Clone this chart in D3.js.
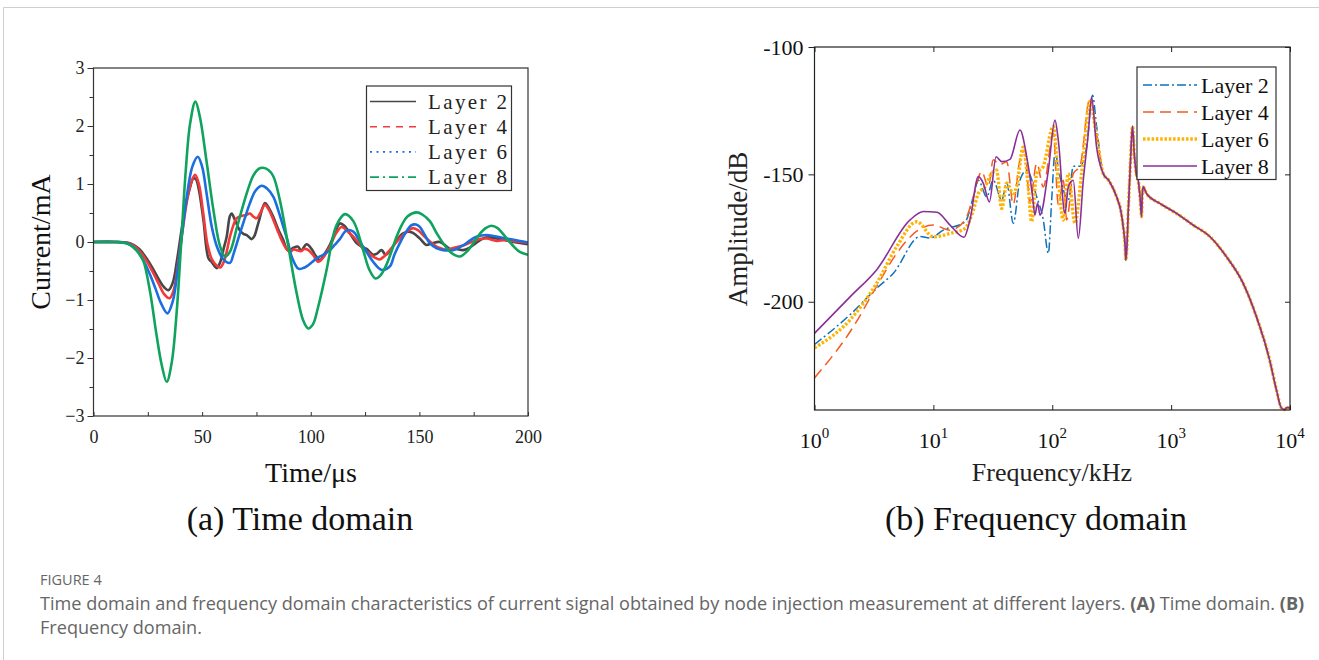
<!DOCTYPE html>
<html><head><meta charset="utf-8">
<script src="https://cdn.jsdelivr.net/npm/d3@7"></script>
<style>
html,body{margin:0;padding:0;background:#fff;}
svg{display:block;}
</style></head>
<body>
<svg id="fig" width="1319" height="660"></svg>
<script>
// ---------------- DATA ----------------
const seriesNames = ["Layer 2", "Layer 4", "Layer 6", "Layer 8"];

// (a) Time domain: [time µs, current mA]
const timeLayer2 = [[0,0],[10,0],[15,-0.01],[18,-0.04],[21,-0.12],[24,-0.26],[27,-0.44],[30,-0.64],[32.5,-0.78],[34.5,-0.83],[36.5,-0.7],[38.5,-0.3],[40.5,0.2],[42.5,0.65],[44.5,0.95],[46,1.1],[47.2,1.08],[48.5,0.9],[50.6,0.38],[52.9,-0.28],[54.5,-0.35],[56.7,-0.45],[58.5,-0.33],[60,-0.1],[61.3,0.09],[62.8,0.45],[63.6,0.49],[65.1,0.38],[67.4,0.2],[69,0.14],[70.5,0.12],[72.8,0.05],[74,0.1],[75.9,0.33],[78.9,0.67],[80.5,0.6],[82.8,0.43],[85,0.22],[87.4,0.03],[88.9,-0.12],[90.4,-0.14],[92,-0.1],[94.2,-0.08],[95.5,-0.15],[98.1,-0.04],[100.4,-0.12],[102.3,-0.24],[104.2,-0.31],[106.5,-0.2],[108.8,-0.05],[111,0.15],[113.4,0.32],[115.5,0.28],[118,0.15],[121.1,-0.02],[123.5,-0.08],[125.7,-0.12],[128.8,-0.22],[130.5,-0.2],[132.6,-0.14],[134.5,-0.22],[136.5,-0.15],[139.5,0.02],[142.5,0.15],[146.3,0.17],[150.2,0.06],[153.2,-0.05],[156,-0.02],[159.4,0.0],[162,-0.06],[164,-0.12],[167,-0.12],[170.1,-0.14],[173,-0.1],[176,-0.02],[179.3,0.06],[182,0.08],[185.5,0.06],[189,0.04],[193.2,0.0],[197,-0.02],[200,-0.04]];
const timeLayer4 = [[0,0],[10,0],[15,-0.01],[18,-0.05],[21,-0.15],[24,-0.3],[27,-0.5],[30,-0.72],[32.5,-0.9],[35,-0.97],[37,-0.82],[39,-0.35],[41,0.2],[43.5,0.8],[45.5,1.08],[46.8,1.16],[48.5,1.0],[50.5,0.5],[52.5,-0.05],[54.5,-0.3],[56.5,-0.4],[58.3,-0.44],[60.2,-0.32],[62.8,0.09],[64.5,0.3],[65.9,0.41],[68,0.45],[70,0.46],[72,0.49],[73.5,0.44],[75.1,0.41],[77,0.52],[78.9,0.64],[80.8,0.55],[82.8,0.38],[84.7,0.2],[86.6,0.03],[88.5,-0.1],[90.4,-0.17],[92,-0.13],[93.5,-0.14],[95.5,-0.16],[97,-0.12],[98.9,-0.14],[101,-0.22],[103.4,-0.34],[105.5,-0.28],[108.8,-0.08],[111.5,0.14],[114.2,0.26],[116.5,0.2],[118.8,0.12],[121.5,0.01],[124.1,-0.11],[127,-0.2],[129.5,-0.27],[131.8,-0.3],[134,-0.24],[136.4,-0.14],[139.5,0.0],[142.5,0.12],[145,0.2],[147.1,0.24],[149.5,0.2],[151.7,0.12],[154.5,0.02],[157.9,-0.08],[160,-0.11],[162.5,-0.13],[166,-0.1],[170.1,-0.06],[174,0.0],[177.8,0.05],[181,0.06],[185.5,0.02],[189,0.03],[193,0.02],[197,0.0],[200,-0.01]];
const timeLayer6 = [[0,0],[10,0],[14,-0.01],[17,-0.05],[20,-0.15],[23,-0.32],[26,-0.56],[28.5,-0.8],[31,-1.05],[34,-1.23],[36.5,-1.02],[38.5,-0.55],[40.5,0.05],[43,0.8],[45.5,1.3],[48,1.47],[50,1.3],[52,0.85],[54.5,0.25],[57,-0.1],[59.8,-0.3],[62.8,-0.36],[64.5,-0.2],[67.4,0.15],[70,0.45],[72,0.67],[74.5,0.88],[77.4,0.97],[80,0.92],[82.8,0.78],[85,0.55],[87.4,0.26],[89.5,0.0],[91.2,-0.25],[94.3,-0.46],[96.5,-0.45],[98.1,-0.42],[100.5,-0.35],[102.7,-0.28],[105.7,-0.22],[108.8,-0.14],[111,-0.05],[113.4,0.05],[116.5,0.2],[119.6,0.18],[122,0.05],[124.1,-0.08],[126.5,-0.22],[128.7,-0.34],[132.6,-0.48],[136.4,-0.42],[138.5,-0.22],[141,-0.02],[143.5,0.15],[146.4,0.29],[148.5,0.3],[150.2,0.26],[152.5,0.12],[154.8,-0.02],[158,-0.11],[160.9,-0.14],[165.5,-0.14],[170.1,-0.06],[173,0.02],[176.3,0.09],[180.9,0.12],[184.5,0.1],[188.5,0.07],[194.7,0.03],[200,-0.01]];
const timeLayer8 = [[0,0],[10,0],[15,-0.02],[18,-0.08],[21,-0.2],[23,-0.33],[26,-0.85],[29,-1.6],[31.4,-2.12],[33.7,-2.41],[36,-2.08],[38.3,-1.2],[40.3,-0.05],[42.5,1.25],[44.5,2.05],[46.9,2.42],[49,2.15],[52,1.4],[55.2,0.55],[58.3,-0.08],[60.6,-0.25],[62.9,-0.16],[66,0.25],[69,0.65],[71.5,0.95],[73.6,1.15],[76,1.26],[78,1.28],[80.5,1.24],[82.8,1.13],[85.8,0.72],[89.7,-0.08],[93.5,-0.88],[96.5,-1.35],[98.8,-1.49],[101,-1.42],[103.4,-1.12],[107.3,-0.48],[110,0.05],[112,0.3],[115.7,0.48],[119.6,0.36],[124.1,-0.14],[127,-0.48],[129.8,-0.63],[132,-0.58],[134.5,-0.42],[137,-0.18],[139.5,0.09],[142,0.3],[144.5,0.44],[148.7,0.51],[151.5,0.47],[154.8,0.36],[158,0.15],[160.9,-0.02],[164.5,-0.18],[168.6,-0.25],[172,-0.16],[174.7,-0.03],[178,0.15],[180.5,0.24],[183.2,0.28],[186,0.24],[190,0.07],[193,-0.06],[196.2,-0.17],[200,-0.22]];
const timeTicks = [0, 50, 100, 150, 200];
const timeMinorTicks = [25, 75, 125, 175];
const currentTicks = [-3, -2, -1, 0, 1, 2, 3];
const currentMinorTicks = [-2.5, -1.5, -0.5, 0.5, 1.5, 2.5];

// (b) Frequency domain: [frequency kHz, amplitude dB]
const freqTail = [[268.5,-149.7],[300,-152.5],[347.5,-158.8],[380,-165],[395.4,-170.6],[410,-178],[415.9,-183.7],[425,-178],[435.5,-165],[455,-145],[473.2,-131.1],[490,-142],[510,-150],[528.4,-152.3],[550,-160],[563.6,-166.6],[572,-158],[582.1,-154.9],[620.9,-157.5],[803.5,-161.4],[1109,-165.3],[1531,-169.9],[2113,-174.4],[2917,-182.3],[4027,-192.7],[5212,-205.8],[6745,-222.9],[7691,-234.6],[8472,-241.7],[9000,-242.3],[9400,-241.5],[10000,-241.7]];
const freqLayer2 = [[1,-216.8],[2.0,-205],[3.34,-194.7],[4.61,-188.8],[7.73,-174.4],[9.38,-175],[12.1,-171.9],[18.5,-168.6],[21.7,-158.8],[23.9,-152.3],[28.1,-158.8],[31.9,-152.3],[37.6,-160.1],[41.4,-153.2],[47.0,-169.2],[53.5,-152.3],[61.0,-148.4],[74.0,-158.8],[84.1,-167.9],[92.7,-181],[98.9,-160.1],[105.4,-141.7],[116.1,-150.9],[136.5,-160.1],[150.3,-146.8],[171.0,-146.8],[194.5,-139.3],[218.3,-118.9],[236,-131.1]];
const freqLayer4 = [[1,-229.9],[2.13,-209.7],[3.34,-193.9],[4.92,-181],[7.24,-172.3],[10,-169.9],[13.8,-171.9],[18.5,-167.9],[21.7,-158.8],[25.5,-148.9],[29.0,-154.9],[31.9,-144.3],[36.3,-146.2],[41.4,-145],[47.0,-161.8],[52.8,-145.6],[58.9,-140.5],[64.9,-161.3],[74.0,-145.6],[84.1,-154.9],[102.1,-134],[112.5,-162],[123.9,-152.3],[132.1,-167.9],[150.3,-149.7],[171.0,-146.8],[207.5,-120.1],[236,-134]];
const freqLayer6 = [[1,-218.1],[2.0,-207],[3.34,-192.7],[4.92,-178.3],[7.24,-168.6],[10,-174.5],[13.8,-173.2],[18.5,-171.2],[21.7,-164],[23.9,-157.5],[27.2,-154.9],[30.9,-149.7],[34.0,-148.4],[37.6,-163.4],[41.4,-153.5],[47.0,-157.5],[50.1,-154.9],[57.0,-139.3],[62.8,-154.9],[67.0,-168.6],[74.0,-149.7],[84.1,-146.8],[102.1,-131.1],[112.5,-152.3],[123.9,-167.9],[136.5,-149.7],[155.2,-169.2],[176.6,-149.7],[207.5,-121.4],[236,-135.3]];
const freqLayer8 = [[1,-212.4],[2.0,-198],[3.34,-187.4],[6.37,-167.9],[8.24,-164.6],[10.7,-164.9],[13.8,-169.9],[18.1,-174.7],[20.3,-167.9],[23.9,-150.9],[26.3,-153.5],[29.6,-160.8],[33.7,-143.1],[37.6,-145],[44.1,-144.1],[53.5,-132.6],[61.0,-143.1],[68.4,-158.8],[71.4,-166],[75.3,-161.3],[78.9,-166],[92.7,-148.4],[105.4,-128.7],[112.5,-136.6],[127.9,-165.3],[136.5,-154.9],[150.3,-152.3],[165.6,-175.1],[182.4,-152.3],[200.9,-134],[214.3,-119.7],[236,-139.3]];
const freqTickExp = [0, 1, 2, 3, 4];
const ampTicks = [-100, -150, -200];

// ---------------- DRAWING ----------------
const svg = d3.select("#fig");
const serif = "'Liberation Serif','Times New Roman',serif";

// outer frame
svg.append("path").attr("d","M3.5,660 L3.5,7.5 L1319,7.5").attr("fill","none").attr("stroke","#cfcfcf").attr("stroke-width",1);

// ===== (a) =====
const L = {x0:93.5, x1:528, y0:68, y1:416};
const xL = d3.scaleLinear().domain([0,200]).range([L.x0,L.x1]);
const yL = d3.scaleLinear().domain([-3,3]).range([L.y1,L.y0]);
const gA = svg.append("g");
gA.append("clipPath").attr("id","clipA").append("rect").attr("x",L.x0).attr("y",L.y0).attr("width",L.x1-L.x0).attr("height",L.y1-L.y0);

const timeSeries = [
  {name:seriesNames[0], data:timeLayer2, color:"#474747", dash:null},
  {name:seriesNames[1], data:timeLayer4, color:"#f23a3a", dash:"7,6"},
  {name:seriesNames[2], data:timeLayer6, color:"#1a6ee0", dash:"2,4.5"},
  {name:seriesNames[3], data:timeLayer8, color:"#10a35e", dash:"9,4,2,4"}
];
const lineA = d3.line().x(d=>xL(d[0])).y(d=>yL(d[1])).curve(d3.curveCatmullRom.alpha(0.5));
gA.append("g").attr("clip-path","url(#clipA)").selectAll("path").data(timeSeries).join("path")
  .attr("d",d=>lineA(d.data)).attr("fill","none").attr("stroke",d=>d.color).attr("stroke-width",2.6).attr("stroke-linejoin","round");

// frame
gA.append("rect").attr("x",L.x0).attr("y",L.y0).attr("width",L.x1-L.x0).attr("height",L.y1-L.y0)
  .attr("fill","none").attr("stroke","#333").attr("stroke-width",1.2);

// x axis (ticks inward)
const axA = d3.axisBottom(xL).tickValues(timeTicks).tickSize(-4).tickPadding(10).tickFormat(d3.format("d"));
const gxA = gA.append("g").attr("transform",`translate(0,${L.y1})`).call(axA);
gxA.select(".domain").remove();
gxA.selectAll(".tick line").attr("stroke","#333");
gxA.selectAll("text").attr("font-family",serif).attr("font-size",18).attr("fill","#222").attr("dy","0.95em");
gA.append("g").attr("transform",`translate(0,${L.y1})`).call(d3.axisBottom(xL).tickValues(timeMinorTicks).tickSize(-4).tickFormat(""))
  .call(g=>{g.select(".domain").remove(); g.selectAll("line").attr("stroke","#333");});

// y axis (ticks outward)
const ayA = d3.axisLeft(yL).tickValues(currentTicks).tickSize(6).tickPadding(3).tickFormat(d=>d<0?"\u2212"+Math.abs(d):String(d));
const gyA = gA.append("g").attr("transform",`translate(${L.x0},0)`).call(ayA);
gyA.select(".domain").remove();
gyA.selectAll(".tick line").attr("stroke","#333");
gyA.selectAll("text").attr("font-family",serif).attr("font-size",18).attr("fill","#222");
gA.append("g").attr("transform",`translate(${L.x0},0)`).call(d3.axisLeft(yL).tickValues(currentMinorTicks).tickSize(4).tickFormat(""))
  .call(g=>{g.select(".domain").remove(); g.selectAll("line").attr("stroke","#333");});

// labels
gA.append("text").attr("transform",`translate(50,242) rotate(-90)`).attr("text-anchor","middle")
  .attr("font-family",serif).attr("font-size",28).attr("fill","#111").text("Current/mA");
gA.append("text").attr("x",311).attr("y",482).attr("text-anchor","middle")
  .attr("font-family",serif).attr("font-size",28).attr("fill","#111").text("Time/\u03bcs");
gA.append("text").attr("x",300).attr("y",530).attr("text-anchor","middle")
  .attr("font-family",serif).attr("font-size",34).attr("fill","#111").text("(a) Time domain");

// legend
const legA = gA.append("g");
legA.append("rect").attr("x",366.5).attr("y",86).attr("width",145).attr("height",104.5).attr("fill","#fff").attr("stroke","#333").attr("stroke-width",1.2);
timeSeries.forEach((s,i)=>{
  const cy = 101.5 + i*25.2;
  legA.append("line").attr("x1",370).attr("x2",416).attr("y1",cy).attr("y2",cy)
    .attr("stroke",s.color).attr("stroke-width",1.6).attr("stroke-dasharray",s.dash);
  legA.append("text").attr("x",428).attr("y",cy+7).attr("font-family",serif).attr("font-size",21)
    .attr("fill","#222").attr("textLength",79).attr("lengthAdjust","spacing").text(s.name);
});

// ===== (b) =====
const R = {x0:814.5, x1:1290, y0:47, y1:410};
const xR = d3.scaleLog().domain([1,1e4]).range([R.x0,R.x1]);
const yR = d3.scaleLinear().domain([-242.5,-100]).range([R.y1,R.y0]);
const gB = svg.append("g");
gB.append("clipPath").attr("id","clipB").append("rect").attr("x",R.x0).attr("y",R.y0).attr("width",R.x1-R.x0).attr("height",R.y1-R.y0+2);

const freqSeries = [
  {name:seriesNames[0], data:freqLayer2.concat(freqTail), color:"#0d72bd", dash:"9,3,2,3", w:1.5},
  {name:seriesNames[1], data:freqLayer4.concat(freqTail), color:"#f55a1f", dash:"11,6", w:1.5},
  {name:seriesNames[2], data:freqLayer6.concat(freqTail), color:"#ffb300", dash:"2.5,1.8", w:3.4},
  {name:seriesNames[3], data:freqLayer8.concat(freqTail), color:"#8a2f98", dash:null, w:1.6}
];
const lineB = d3.line().x(d=>xR(d[0])).y(d=>yR(d[1])).curve(d3.curveMonotoneX);
gB.append("g").attr("clip-path","url(#clipB)").selectAll("path").data(freqSeries).join("path")
  .attr("d",d=>lineB(d.data)).attr("fill","none").attr("stroke",d=>d.color).attr("stroke-width",d=>d.w)
  .attr("stroke-dasharray",d=>d.dash).attr("stroke-linejoin","round");

gB.append("rect").attr("x",R.x0).attr("y",R.y0).attr("width",R.x1-R.x0).attr("height",R.y1-R.y0)
  .attr("fill","none").attr("stroke","#222").attr("stroke-width",1.2);

const decades = freqTickExp.map(e=>Math.pow(10,e));
const gxB = gB.append("g").attr("transform",`translate(0,${R.y1})`)
  .call(d3.axisBottom(xR).tickValues(decades).tickSize(-5).tickFormat(""));
gxB.select(".domain").remove(); gxB.selectAll("line").attr("stroke","#222");
const gxBt = gB.append("g").attr("transform",`translate(0,${R.y0})`)
  .call(d3.axisTop(xR).tickValues(decades).tickSize(-5).tickFormat(""));
gxBt.select(".domain").remove(); gxBt.selectAll("line").attr("stroke","#222");
freqTickExp.forEach(e=>{
  const t = gB.append("text").attr("x",xR(Math.pow(10,e))).attr("y",448).attr("text-anchor","middle")
    .attr("font-family",serif).attr("font-size",22).attr("fill","#111");
  t.append("tspan").text("10");
  t.append("tspan").attr("dy",-10).attr("font-size",15).text(String(e));
});
const gyB = gB.append("g").attr("transform",`translate(${R.x0},0)`)
  .call(d3.axisLeft(yR).tickValues(ampTicks).tickSize(6).tickPadding(5).tickFormat(d=>String(d)));
gyB.select(".domain").remove(); gyB.selectAll("line").attr("stroke","#222");
gyB.selectAll("text").attr("font-family",serif).attr("font-size",22).attr("fill","#111");
const gyBr = gB.append("g").attr("transform",`translate(${R.x1},0)`)
  .call(d3.axisRight(yR).tickValues(ampTicks).tickSize(-5).tickFormat(""));
gyBr.select(".domain").remove(); gyBr.selectAll("line").attr("stroke","#222");

gB.append("text").attr("transform",`translate(747,229) rotate(-90)`).attr("text-anchor","middle")
  .attr("font-family",serif).attr("font-size",27).attr("fill","#222").text("Amplitude/dB");
gB.append("text").attr("x",1052).attr("y",481).attr("text-anchor","middle")
  .attr("font-family",serif).attr("font-size",26).attr("fill","#222").text("Frequency/kHz");
gB.append("text").attr("x",1036).attr("y",530).attr("text-anchor","middle")
  .attr("font-family",serif).attr("font-size",34).attr("fill","#111").text("(b) Frequency domain");

const legB = gB.append("g");
legB.append("rect").attr("x",1137).attr("y",67).attr("width",139).attr("height",112.5).attr("fill","#fff").attr("stroke","#333").attr("stroke-width",1.2);
freqSeries.forEach((s,i)=>{
  const cy = 85 + i*27;
  legB.append("line").attr("x1",1143).attr("x2",1197).attr("y1",cy).attr("y2",cy)
    .attr("stroke",s.color).attr("stroke-width",s.w).attr("stroke-dasharray",s.dash);
  legB.append("text").attr("x",1201).attr("y",cy+7.5).attr("font-family",serif).attr("font-size",22)
    .attr("fill","#111").text(s.name);
});

// ===== caption =====
const sans = "'Open Sans','Noto Sans',sans-serif";
svg.append("text").attr("x",40).attr("y",585).attr("font-family",sans).attr("font-size",14.5).attr("fill","#666").text("FIGURE 4");
const cap1 = svg.append("text").attr("x",40).attr("y",610).attr("font-family",sans).attr("font-size",18.1).attr("fill","#666");
cap1.append("tspan").text("Time domain and frequency domain characteristics of current signal obtained by node injection measurement at different layers. ");
cap1.append("tspan").attr("font-weight","bold").text("(A)");
cap1.append("tspan").text(" Time domain. ");
cap1.append("tspan").attr("font-weight","bold").text("(B)");
svg.append("text").attr("x",40).attr("y",634).attr("font-family",sans).attr("font-size",18.1).attr("fill","#666").text("Frequency domain.");
</script>
</body></html>
